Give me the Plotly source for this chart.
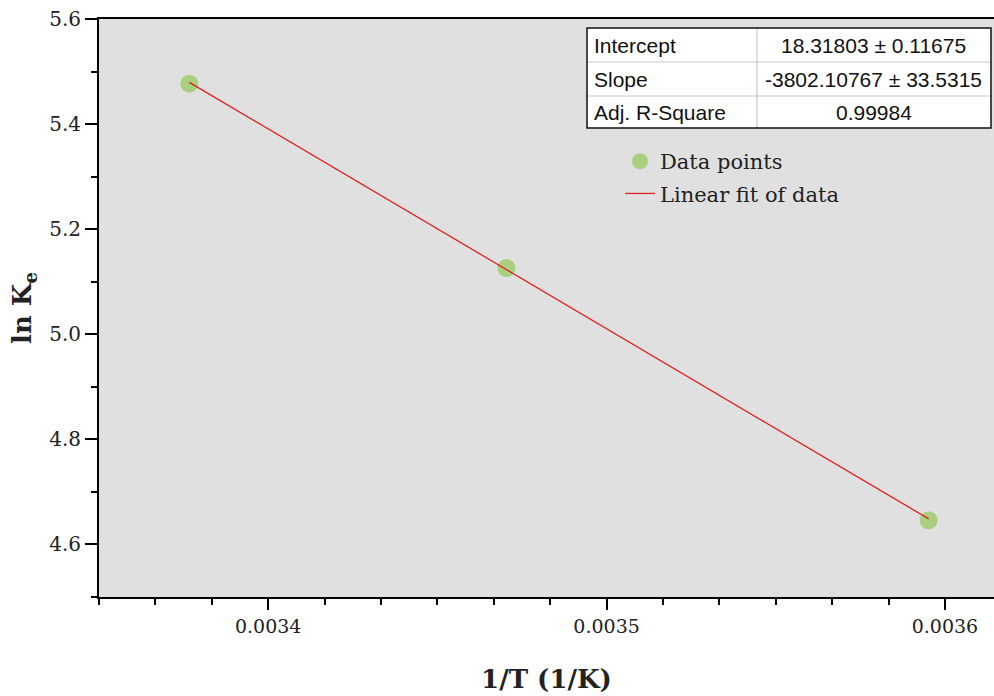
import plotly.graph_objects as go

# ---- data ----
inv_T = [0.0033767, 0.0034704, 0.0035952]
ln_Ke = [5.477, 5.126, 4.646]
fit_x = [0.0033767, 0.0035952]
fit_y = [5.4794, 4.6487]

table_labels = ["Intercept", "Slope", "Adj. R-Square"]
table_values = ["18.31803 \u00b1 0.11675", "-3802.10767 \u00b1 33.5315", "0.99984"]

x_ticks = [0.0034, 0.0035, 0.0036]
x_ticktext = ["0.0034", "0.0035", "0.0036"]
y_ticks = [4.6, 4.8, 5.0, 5.2, 5.4, 5.6]
y_ticktext = ["4.6", "4.8", "5.0", "5.2", "5.4", "5.6"]

SERIF = "DejaVu Serif"

fig = go.Figure()
fig.add_trace(go.Scatter(
    x=inv_T, y=ln_Ke, mode="markers", name="Data points",
    marker=dict(color="#a9d07f", size=18, line=dict(width=0)),
    legendgroup="a",
))
fig.add_trace(go.Scatter(
    x=fit_x, y=fit_y, mode="lines", name="Linear fit of data",
    line=dict(color="#e0201e", width=1.3),
    legendgroup="b",
))

# ---- fit table ----
W, H = 895.0, 578.0
def px(x):
    return (x - 99) / W
def py(y):
    return 1 - (y - 19) / H

tx0, tx1, tcol = px(587), px(991), px(757)
row_edges = [28, 62, 96, 128]
shapes = []
shapes.append(dict(type="rect", xref="paper", yref="paper",
                   x0=tx0, x1=tx1, y0=py(row_edges[-1]), y1=py(row_edges[0]),
                   fillcolor="white", line=dict(width=0), layer="above"))
for ry in row_edges[1:-1]:
    shapes.append(dict(type="line", xref="paper", yref="paper",
                       x0=tx0, x1=tx1, y0=py(ry), y1=py(ry),
                       line=dict(color="#c8c8c8", width=1.2), layer="above"))
shapes.append(dict(type="line", xref="paper", yref="paper",
                   x0=tcol, x1=tcol, y0=py(row_edges[-1]), y1=py(row_edges[0]),
                   line=dict(color="#c8c8c8", width=1.2), layer="above"))
shapes.append(dict(type="rect", xref="paper", yref="paper",
                   x0=tx0, x1=tx1, y0=py(row_edges[-1]), y1=py(row_edges[0]),
                   fillcolor="rgba(0,0,0,0)", line=dict(color="#111111", width=1.5),
                   layer="above"))

annotations = []
for i, (lab, val) in enumerate(zip(table_labels, table_values)):
    yc = py((row_edges[i] + row_edges[i + 1]) / 2)
    annotations.append(dict(text=lab, xref="paper", yref="paper", x=px(592), y=yc,
                            xanchor="left", yanchor="middle", showarrow=False,
                            font=dict(family="Liberation Sans", size=21, color="#111111")))
    annotations.append(dict(text=val, xref="paper", yref="paper",
                            x=(tcol + tx1) / 2, y=yc,
                            xanchor="center", yanchor="middle", showarrow=False,
                            font=dict(family="Liberation Sans", size=21, color="#111111")))

fig.update_layout(
    width=994, height=696,
    margin=dict(l=99, r=0, t=19, b=99),
    paper_bgcolor="white",
    plot_bgcolor="#e0e0e0",
    shapes=shapes,
    annotations=annotations,
    showlegend=True,
    legend=dict(
        x=px(620), y=py(141), xanchor="left", yanchor="top",
        bgcolor="rgba(0,0,0,0)", borderwidth=0,
        font=dict(family=SERIF, size=21, color="#222222"),
        tracegroupgap=2, traceorder="grouped",
    ),
    xaxis=dict(
        range=[0.00335, 0.0036145],
        tickvals=x_ticks, ticktext=x_ticktext,
        ticks="outside", ticklen=11, tickwidth=2, tickcolor="black",
        showline=True, linecolor="black", linewidth=2, mirror=True,
        showgrid=False, zeroline=False,
        tickfont=dict(family=SERIF, size=19, color="#222222"),
        minor=dict(tick0=0.0034, dtick=0.0001 / 6, ticks="outside", ticklen=6,
                   tickwidth=2, tickcolor="black", showgrid=False),
        title=dict(text="<b>1/T (1/K)</b>", standoff=34,
                   font=dict(family=SERIF, size=26, color="#222222")),
    ),
    yaxis=dict(
        range=[4.5, 5.6],
        tickvals=y_ticks, ticktext=y_ticktext,
        ticks="outside", ticklen=12, tickwidth=2, tickcolor="black",
        showline=True, linecolor="black", linewidth=2, mirror=False,
        showgrid=False, zeroline=False,
        tickfont=dict(family=SERIF, size=20, color="#222222"),
        minor=dict(tick0=4.5, dtick=0.1, ticks="outside", ticklen=6,
                   tickwidth=2, tickcolor="black", showgrid=False),
        title=dict(text="<b>ln K<sub>e</sub></b>", standoff=10,
                   font=dict(family=SERIF, size=26, color="#222222")),
    ),
)

fig.write_html("out.html")
